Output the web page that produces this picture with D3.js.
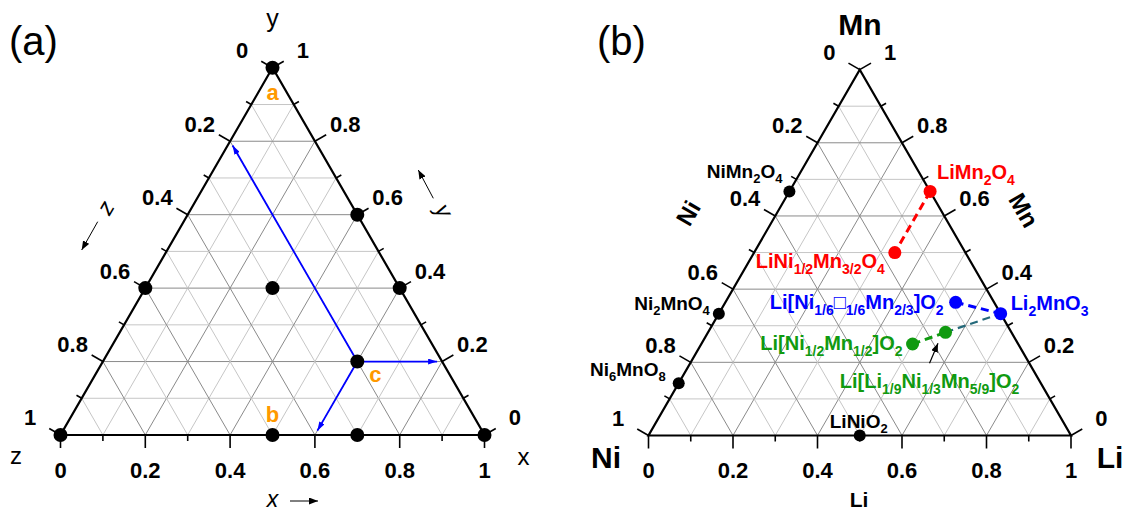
<!DOCTYPE html>
<html>
<head>
<meta charset="utf-8">
<script src="https://cdn.jsdelivr.net/npm/d3@7"></script>
<style>
  body { margin: 0; background: #fff; }
  svg { display: block; font-family: Arial, "Liberation Sans", sans-serif; }
</style>
</head>
<body>
<div id="plot"></div>
<script>
// grid + tick positions along each side, labels every 0.2
const gridSteps = d3.range(1, 10).map(i => i / 10);
const tickSteps = d3.range(0, 11).map(i => i / 10);
const tickLabels = ["0", "0.2", "0.4", "0.6", "0.8", "1"];

// panel (a): x = right corner share, y = top share (z = 1 - x - y)
const dotX = [0, 0, 0.3, 0.6, 0.4, 0.6, 0, 0.5, 0.7, 1];
const dotY = [1, 0.4, 0.4, 0.4, 0.6, 0.2, 0, 0, 0, 0];
const dotLetters = ["a", "", "", "", "", "c", "", "b", "", ""];
const readoutPoint = 5;

// panel (b): Li = right corner, Mn = top, Ni = rest
const phaseNames = [
  "NiMn_2O_4", "Ni_2MnO_4", "Ni_6MnO_8", "LiNiO_2",
  "LiMn_2O_4", "LiNi_{1/2}Mn_{3/2}O_4",
  "Li[Ni_{1/6}\u25A1_{1/6}Mn_{2/3}]O_2", "Li_2MnO_3",
  "Li[Ni_{1/2}Mn_{1/2}]O_2", "Li[Li_{1/9}Ni_{1/3}Mn_{5/9}]O_2"
];
const phaseLi = [0, 0, 0, 0.5, 0.333, 0.333, 0.545, 0.667, 0.5, 0.562];
const phaseMn = [0.667, 0.333, 0.143, 0, 0.667, 0.5, 0.364, 0.333, 0.25, 0.282];
const phaseGroup = ["k", "k", "k", "k", "r", "r", "b", "b", "g", "g"];
const tieLines = [[4, 5, "r"], [6, 7, "b"], [8, 9, "g"], [9, 7, "t"]];

const colors = { k: "#000", r: "#ff0000", b: "#0000ff", g: "#109a10", t: "#24697a" };

// label placement for (b), relative to each dot
const phaseLabelPos = [
  { anchor: "end", dx: -7, dy: -13 },
  { anchor: "end", dx: -9, dy: -4 },
  { anchor: "end", dx: -13, dy: -7 },
  { anchor: "start", dx: -30, dy: -8 },
  { anchor: "start", dx: 7, dy: -12 },
  { anchor: "end", dx: -10, dy: 15 },
  { anchor: "end", dx: -12, dy: 7 },
  { anchor: "start", dx: 10, dy: -4 },
  { anchor: "end", dx: -10, dy: 6 },
  { anchor: "middle", dx: -16, dy: 56 }
];

const width = 1125, height = 512;
const cos30 = Math.sqrt(3) / 2;

const svg = d3.select("#plot").append("svg")
  .attr("width", width)
  .attr("height", height);

const defs = svg.append("defs");
function addMarker(id, color, len, wid) {
  defs.append("marker")
    .attr("id", id)
    .attr("viewBox", "0 0 10 10")
    .attr("refX", 10).attr("refY", 5)
    .attr("markerUnits", "userSpaceOnUse")
    .attr("markerWidth", len).attr("markerHeight", wid)
    .attr("preserveAspectRatio", "none")
    .attr("orient", "auto")
    .append("path")
    .attr("d", "M0,0L10,5L0,10z")
    .attr("fill", color);
}
addMarker("arrBlack", "#000", 9, 7);
addMarker("arrBlue", "#0000ff", 9, 6);

// ternary -> screen, built on two linear scales
function makeProjection(left, bottom, side) {
  const sx = d3.scaleLinear().domain([0, 1]).range([left, left + side]);
  const sy = d3.scaleLinear().domain([0, 1]).range([bottom, bottom - side * cos30]);
  return (r, t) => [sx(r + t / 2), sy(t)];
}

// text with _x / _{..} subscripts
function richText(sel, str, size, subSize) {
  const shift = Math.round(size * 0.28);
  let down = false;
  str.match(/_\{[^}]*\}|_.|[^_]+/g).forEach(p => {
    const ts = sel.append("tspan");
    if (p[0] === "_") {
      ts.attr("font-size", subSize).attr("dy", down ? 0 : shift)
        .text(p[1] === "{" ? p.slice(2, -1) : p.slice(1));
      down = true;
    } else {
      ts.attr("dy", down ? -shift : 0).text(p);
      down = false;
    }
  });
}

function drawFrame(g, proj) {
  const line = d3.line();
  // grid
  const grid = [];
  gridSteps.forEach(t => {
    const major = Math.round(t * 10) % 2 === 0;
    grid.push({ p: [proj(1 - t, t), proj(0, t)], major });
    grid.push({ p: [proj(t, 0), proj(t, 1 - t)], major });
    grid.push({ p: [proj(1 - t, 0), proj(0, 1 - t)], major });
  });
  g.append("g").selectAll("path").data(grid).enter().append("path")
    .attr("d", d => line(d.p))
    .attr("fill", "none")
    .attr("stroke", d => d.major ? "#8a8a8a" : "#c6c6c6")
    .attr("stroke-width", 1);

  // ticks on the three sides
  const sides = [
    { base: t => proj(t, 0), dir: [0, 1] },
    { base: t => proj(0, 1 - t), dir: [-cos30, -0.5] },
    { base: t => proj(1 - t, t), dir: [cos30, -0.5] }
  ];
  const ticks = g.append("g");
  sides.forEach(s => {
    tickSteps.forEach(t => {
      const major = Math.round(t * 10) % 2 === 0;
      const b = s.base(t);
      const len = major ? 13 : 6;
      ticks.append("line")
        .attr("x1", b[0]).attr("y1", b[1])
        .attr("x2", b[0] + s.dir[0] * len).attr("y2", b[1] + s.dir[1] * len)
        .attr("stroke", "#000").attr("stroke-width", 1.6);
      if (major) {
        ticks.append("text")
          .attr("x", b[0] + s.dir[0] * 35)
          .attr("y", b[1] + s.dir[1] * 35)
          .attr("dy", "0.36em")
          .attr("text-anchor", "middle")
          .attr("font-size", 22)
          .attr("font-weight", "bold")
          .text(tickLabels[Math.round(t * 5)]);
      }
    });
  });

  // outline
  g.append("path")
    .attr("d", line([proj(0, 0), proj(1, 0), proj(0, 1)]) + "Z")
    .attr("fill", "none")
    .attr("stroke", "#000")
    .attr("stroke-width", 2.2)
    .attr("stroke-linejoin", "miter");
}

// ---------- panel (a) ----------
const projA = makeProjection(60.5, 435, 424);
const gA = svg.append("g");
drawFrame(gA, projA);

// read-off arrows from point c
const cx = dotX[readoutPoint], cy = dotY[readoutPoint], cz = 1 - cx - cy;
const cPos = projA(cx, cy);
[projA(0, 1 - cz), projA(1 - cy, cy), projA(cx, 0)].forEach(tgt => {
  const dx = tgt[0] - cPos[0], dy = tgt[1] - cPos[1];
  const L = Math.hypot(dx, dy);
  gA.append("line")
    .attr("x1", cPos[0]).attr("y1", cPos[1])
    .attr("x2", tgt[0] - dx / L * 5).attr("y2", tgt[1] - dy / L * 5)
    .attr("stroke", "#0000ff").attr("stroke-width", 1.8)
    .attr("marker-end", "url(#arrBlue)");
});

gA.append("g").selectAll("circle").data(dotX).enter().append("circle")
  .attr("cx", (d, i) => projA(d, dotY[i])[0])
  .attr("cy", (d, i) => projA(d, dotY[i])[1])
  .attr("r", 7)
  .attr("fill", "#000");

const letterOffset = { a: [0, 32], b: [0, -13], c: [18, 20] };
dotLetters.forEach((l, i) => {
  if (!l) return;
  const p = projA(dotX[i], dotY[i]);
  gA.append("text")
    .attr("x", p[0] + letterOffset[l][0])
    .attr("y", p[1] + letterOffset[l][1])
    .attr("text-anchor", "middle")
    .attr("font-size", 22)
    .attr("font-weight", "bold")
    .attr("fill", "#ff9900")
    .text(l);
});

// corner names
gA.append("text").attr("x", 9).attr("y", 55).attr("font-size", 40).text("(a)");
gA.append("text").attr("x", 272.5).attr("y", 27).attr("text-anchor", "middle").attr("font-size", 25).text("y");
gA.append("text").attr("x", 16).attr("y", 464).attr("text-anchor", "middle").attr("font-size", 24).text("z");
gA.append("text").attr("x", 523.5).attr("y", 465).attr("text-anchor", "middle").attr("font-size", 24).text("x");

// axis direction hints
function hint(label, pos, rot, from, to) {
  gA.append("text")
    .attr("transform", `translate(${pos[0]},${pos[1]}) rotate(${rot})`)
    .attr("dy", "0.3em")
    .attr("text-anchor", "middle")
    .attr("font-size", 23)
    .attr("font-style", "italic")
    .text(label);
  gA.append("line")
    .attr("x1", from[0]).attr("y1", from[1])
    .attr("x2", to[0]).attr("y2", to[1])
    .attr("stroke", "#000").attr("stroke-width", 1)
    .attr("marker-end", "url(#arrBlack)");
}
hint("z", [106.5, 208], -60, [97.7, 221.7], [81.7, 250]);
hint("y", [443, 211], 60, [433.3, 198.3], [418.3, 170]);
hint("x", [272.5, 500], 0, [290, 501], [318, 501]);

// ---------- panel (b) ----------
const projB = makeProjection(648.5, 435.5, 422.5);
const gB = svg.append("g");
drawFrame(gB, projB);

const posB = phaseLi.map((li, i) => projB(li, phaseMn[i]));

gB.append("g").selectAll("line").data(tieLines).enter().append("line")
  .attr("x1", d => posB[d[0]][0]).attr("y1", d => posB[d[0]][1])
  .attr("x2", d => posB[d[1]][0]).attr("y2", d => posB[d[1]][1])
  .attr("stroke", d => colors[d[2]])
  .attr("stroke-width", d => d[2] === "t" ? 2.2 : 3)
  .attr("stroke-dasharray", "8,5");

gB.append("g").selectAll("circle").data(posB).enter().append("circle")
  .attr("cx", d => d[0]).attr("cy", d => d[1])
  .attr("r", (d, i) => phaseGroup[i] === "k" ? 6 : 6.5)
  .attr("fill", (d, i) => colors[phaseGroup[i]]);

phaseNames.forEach((name, i) => {
  const lp = phaseLabelPos[i];
  const black = phaseGroup[i] === "k";
  const t = gB.append("text")
    .attr("x", posB[i][0] + lp.dx)
    .attr("y", posB[i][1] + lp.dy)
    .attr("text-anchor", lp.anchor)
    .attr("font-size", black ? 19 : 20)
    .attr("font-weight", "bold")
    .attr("fill", colors[phaseGroup[i]]);
  richText(t, name, black ? 19 : 20, black ? 13 : 14);
});

// pointer to the Li-excess phase
const p9 = posB[9];
gB.append("line")
  .attr("x1", p9[0] - 16).attr("y1", p9[1] + 31)
  .attr("x2", p9[0] - 7.5).attr("y2", p9[1] + 11)
  .attr("stroke", "#000").attr("stroke-width", 1.2)
  .attr("marker-end", "url(#arrBlack)");

gB.append("text").attr("x", 597).attr("y", 55).attr("font-size", 40).text("(b)");
gB.append("text").attr("x", 860).attr("y", 35).attr("text-anchor", "middle")
  .attr("font-size", 30).attr("font-weight", "bold").text("Mn");
gB.append("text").attr("x", 606).attr("y", 468).attr("text-anchor", "middle")
  .attr("font-size", 30).attr("font-weight", "bold").text("Ni");
gB.append("text").attr("x", 1110).attr("y", 468).attr("text-anchor", "middle")
  .attr("font-size", 30).attr("font-weight", "bold").text("Li");
gB.append("text").attr("x", 859).attr("y", 507).attr("text-anchor", "middle")
  .attr("font-size", 21).attr("font-weight", "bold").text("Li");
gB.append("text")
  .attr("transform", "translate(688,213) rotate(-60)")
  .attr("dy", "0.36em").attr("text-anchor", "middle")
  .attr("font-size", 24).attr("font-weight", "bold").text("Ni");
gB.append("text")
  .attr("transform", "translate(1024,210) rotate(60)")
  .attr("dy", "0.36em").attr("text-anchor", "middle")
  .attr("font-size", 24).attr("font-weight", "bold").text("Mn");
</script>
</body>
</html>
